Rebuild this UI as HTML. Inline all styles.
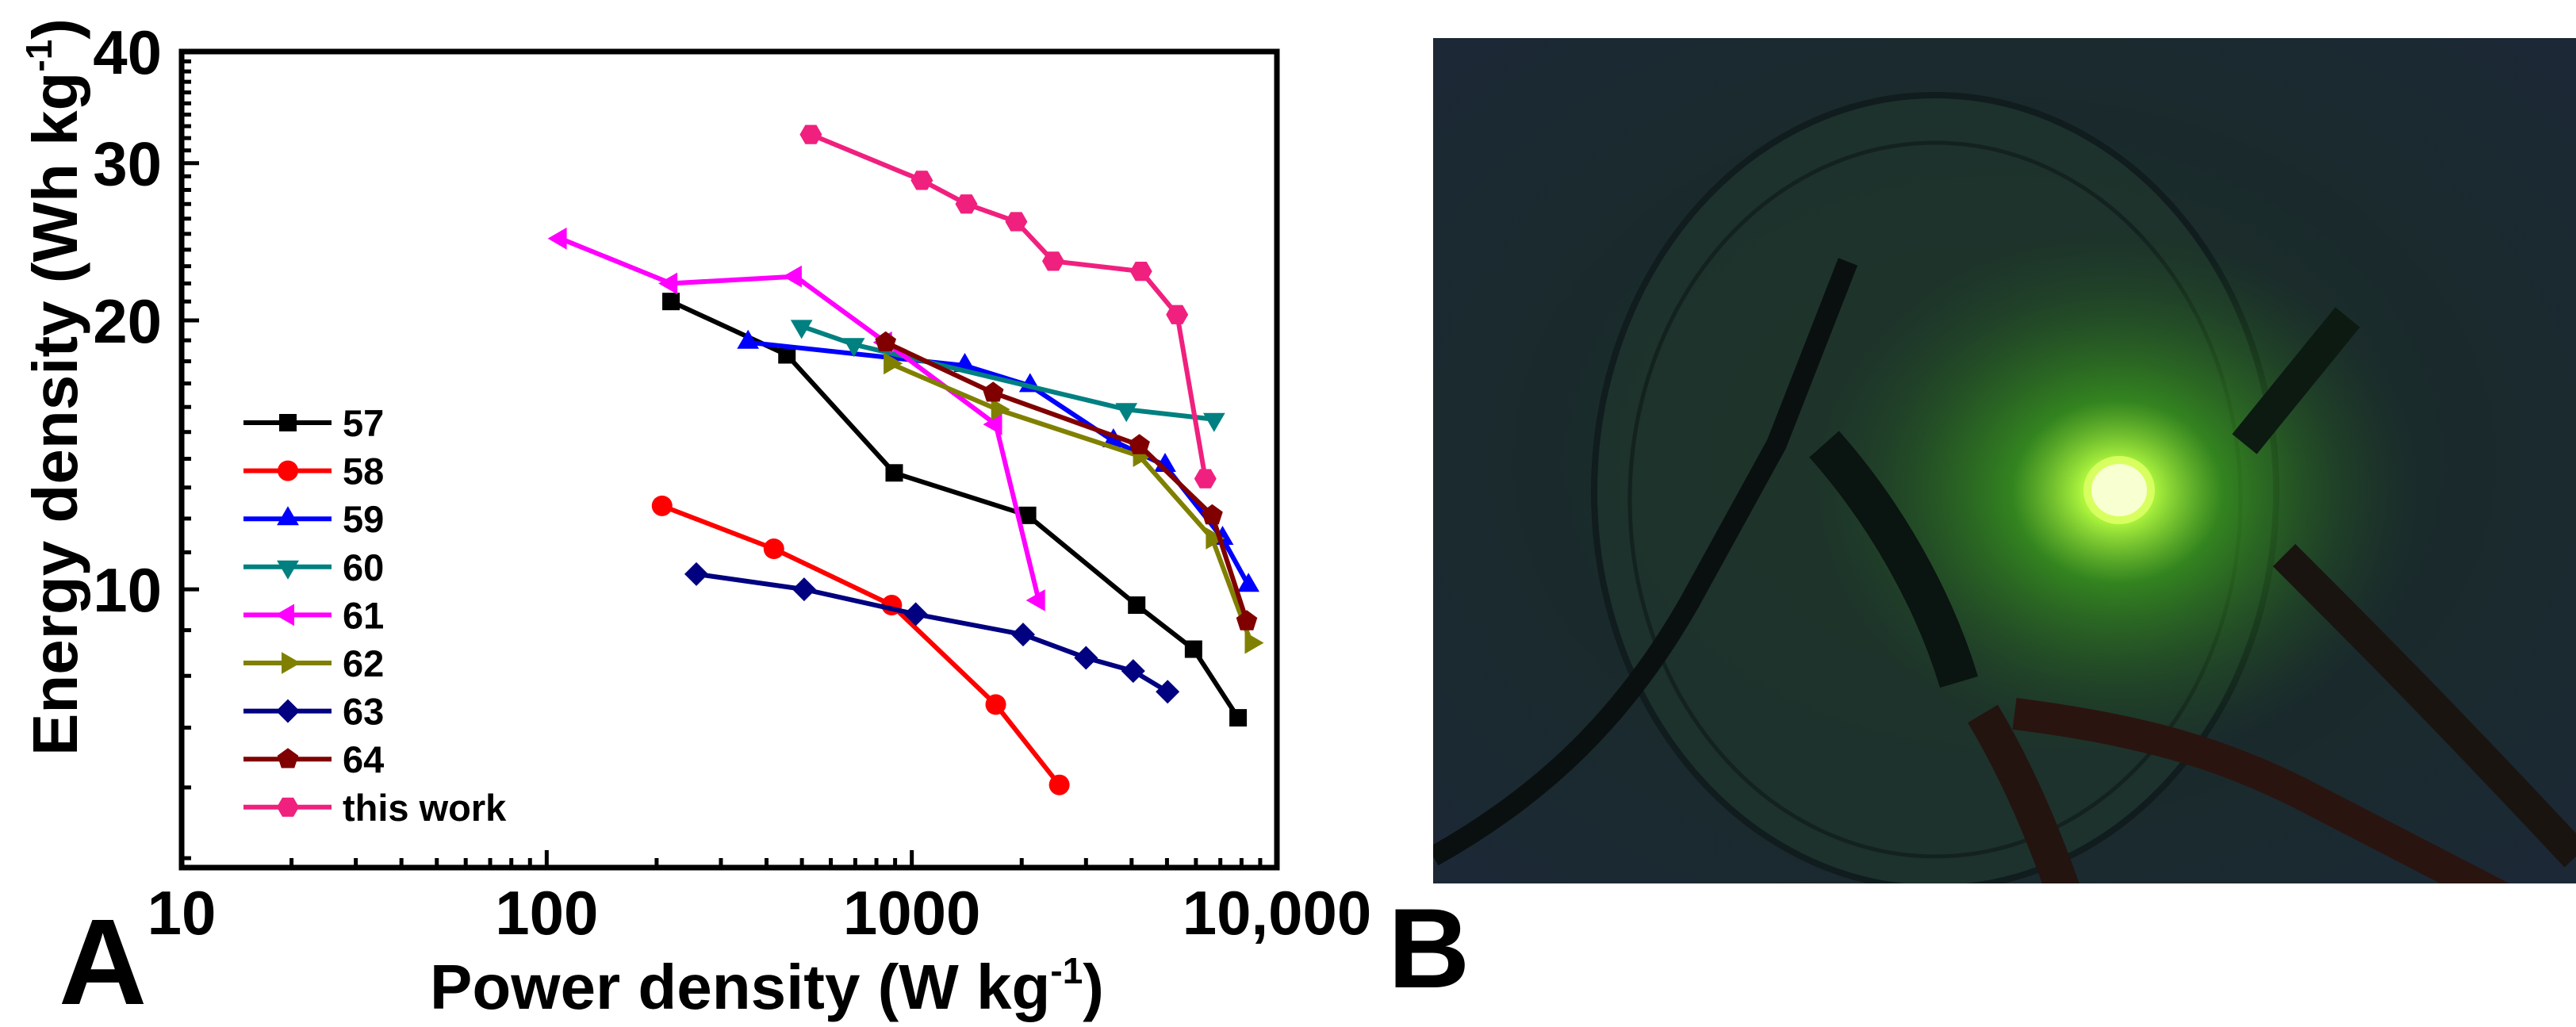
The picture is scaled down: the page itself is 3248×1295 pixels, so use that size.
<!DOCTYPE html>
<html><head><meta charset="utf-8"><style>
html,body{margin:0;padding:0;background:#fff;}
svg{display:block;}
text{font-family:"Liberation Sans",Arial,sans-serif;font-weight:bold;fill:#000;}
</style></head><body>
<svg id="fig" width="3248" height="1295" viewBox="0 0 3248 1295" xmlns="http://www.w3.org/2000/svg">
<defs>
<radialGradient id="bg" cx="0.5" cy="0.5" r="0.75">
<stop offset="0" stop-color="#1e3328"/><stop offset="0.55" stop-color="#1a2a2c"/><stop offset="1" stop-color="#1c2838"/>
</radialGradient>
<radialGradient id="glow" cx="0.5" cy="0.5" r="0.5">
<stop offset="0" stop-color="#f0ffb0"/><stop offset="0.1" stop-color="#b8ff40"/><stop offset="0.35" stop-color="#3a9e1c" stop-opacity="0.75"/><stop offset="1" stop-color="#1e4a22" stop-opacity="0"/>
</radialGradient>
<clipPath id="pclip"><rect x="1807" y="48" width="1441" height="1066"/></clipPath>
</defs>
<g id="chart"></g>
<g id="photo" clip-path="url(#pclip)">
<rect x="1807" y="48" width="1441" height="1066" fill="url(#bg)"/>
<ellipse cx="2440" cy="620" rx="430" ry="500" fill="#1f3a2c" fill-opacity="0.5" stroke="#101c1e" stroke-width="8"/>
<ellipse cx="2440" cy="630" rx="385" ry="450" fill="none" stroke="#14221f" stroke-width="5"/>
<ellipse cx="2670" cy="620" rx="380" ry="330" fill="url(#glow)"/>
<ellipse cx="2672" cy="618" rx="40" ry="38" fill="#f8ffd0" stroke="#d8ff60" stroke-width="10"/>
<path d="M1807 1080 C1950 1000 2050 900 2130 760 L2240 560 L2330 330" stroke="#0a1010" stroke-width="26" fill="none"/>
<path d="M2300 560 C2380 650 2440 760 2470 860" stroke="#0a1410" stroke-width="50" fill="none"/>
<path d="M2830 560 L2960 400" stroke="#0c1a12" stroke-width="40" fill="none"/>
<path d="M2880 700 C2980 800 3080 900 3248 1080" stroke="#1a1410" stroke-width="40" fill="none"/>
<path d="M2540 900 C2700 920 2800 950 2900 1000 L3248 1180" stroke="#2a1410" stroke-width="40" fill="none"/>
<path d="M2500 900 C2560 1000 2620 1150 2650 1300" stroke="#231410" stroke-width="44" fill="none"/>
</g>
<text x="1750" y="1245" font-size="143">B</text>
</svg>
<script>
// ---- data ----
const seriesNames = ["57","58","59","60","61","62","63","64","this work"];
const s57x = [219,455,895,2075,4130,5910,7830];
const s57y = [21.0,18.3,13.5,12.1,9.6,8.57,7.18];
const s58x = [207,419,881,1698,2535];
const s58y = [12.4,11.1,9.6,7.43,6.04];
const s59x = [356,1397,2108,3566,4940,7100,8360];
const s59y = [18.9,17.8,16.9,14.66,13.76,11.4,10.1];
const s60x = [499,694,3870,6730];
const s60y = [19.7,18.8,15.9,15.5];
const s61x = [109,219,480,848,1698,2227];
const s61y = [24.7,22.0,22.4,18.9,15.3,9.72];
const s62x = [871,1717,4200,6650,8500];
const s62y = [17.9,15.9,14.1,11.4,8.71];
const s63x = [257,507,1025,2018,3000,4040,5020];
const s63y = [10.4,10.0,9.38,8.9,8.38,8.1,7.68];
const s64x = [848,1670,4200,6650,8270];
const s64y = [18.9,16.6,14.5,12.1,9.21];
const sTWx = [529,1065,1411,1933,2440,4245,5330,6370];
const sTWy = [32.3,28.7,27.0,25.8,23.3,22.7,20.3,13.3];
const xTickLabels = ["10","100","1000","10,000"];
const xTickValues = [10,100,1000,10000];
const yTickLabels = ["10","20","30","40"];
const yTickValues = [10,20,30,40];

const NS="http://www.w3.org/2000/svg";
const L=229,R=1610,T=65,B=1094;
const XMIN=10,XMAX=10000,YMIN=4.88,YMAX=40;
function sx(v){return L+(Math.log10(v)-Math.log10(XMIN))/(Math.log10(XMAX)-Math.log10(XMIN))*(R-L);}
function sy(v){return B-(Math.log10(v)-Math.log10(YMIN))/(Math.log10(YMAX)-Math.log10(YMIN))*(B-T);}
const chart=document.getElementById('chart');
function mk(tag,attrs,parent){const e=document.createElementNS(NS,tag);for(const k in attrs)e.setAttribute(k,attrs[k]);(parent||chart).appendChild(e);return e;}

const series=[
 {x:s57x,y:s57y,c:"#000000",m:"square"},
 {x:s58x,y:s58y,c:"#ff0000",m:"circle"},
 {x:s59x,y:s59y,c:"#0000ff",m:"up"},
 {x:s60x,y:s60y,c:"#008080",m:"down"},
 {x:s61x,y:s61y,c:"#ff00ff",m:"left"},
 {x:s62x,y:s62y,c:"#808000",m:"right"},
 {x:s63x,y:s63y,c:"#000080",m:"diamond"},
 {x:s64x,y:s64y,c:"#800000",m:"pentagon"},
 {x:sTWx,y:sTWy,c:"#f0207f",m:"hexagon"}
];
function marker(type,cx,cy,col,parent){
  const r=13;let pts;
  if(type==="square"){return mk('rect',{x:cx-11,y:cy-11,width:22,height:22,fill:col},parent);}
  if(type==="circle"){return mk('circle',{cx:cx,cy:cy,r:r,fill:col},parent);}
  const poly=(n,rot,rr)=>{let p=[];for(let i=0;i<n;i++){const a=rot+i*2*Math.PI/n;p.push((cx+rr*Math.cos(a)).toFixed(1)+","+(cy+rr*Math.sin(a)).toFixed(1));}return p.join(" ");};
  if(type==="up")pts=poly(3,-Math.PI/2,16);
  else if(type==="down")pts=poly(3,Math.PI/2,16);
  else if(type==="left")pts=poly(3,Math.PI,16);
  else if(type==="right")pts=poly(3,0,16);
  else if(type==="diamond")pts=poly(4,-Math.PI/2,15);
  else if(type==="pentagon")pts=poly(5,-Math.PI/2,14);
  else pts=poly(6,0,14);
  return mk('polygon',{points:pts,fill:col},parent);
}

const box=mk('rect',{x:L,y:T,width:R-L,height:B-T,fill:"none",stroke:"#000","stroke-width":7});



const xt=mk('g',{});


for(let d=10;d<10000;d*=10){for(let k=1;k<10;k++){const v=d*k;const X=sx(v);const len=(k===1)?22:12;mk('line',{x1:X,y1:B,x2:X,y2:B-len,stroke:"#000","stroke-width":5},xt);}}
xTickValues.forEach((v,i)=>{const t=mk('text',{x:sx(v),y:1178,"font-size":78,"text-anchor":"middle"});t.textContent=xTickLabels[i];

});
const yt=mk('g',{});


for(let v=5;v<=40;v++){const Y=sy(v);const len=(v%10===0)?22:12;mk('line',{x1:L,y1:Y,x2:L+len,y2:Y,stroke:"#000","stroke-width":5},yt);}
yTickValues.forEach((v,i)=>{const t=mk('text',{x:204,y:sy(v)+28,"font-size":78,"text-anchor":"end"});t.textContent=yTickLabels[i];

});

const xtitle=mk('text',{x:967,y:1272,"font-size":80,"text-anchor":"middle"});
xtitle.innerHTML='Power density (W kg<tspan dy="-32" font-size="46">-1</tspan><tspan dy="32">)</tspan>';


const ytitle=mk('text',{x:0,y:0,"font-size":80,"text-anchor":"middle",transform:"translate(97,488) rotate(-90)"});
ytitle.innerHTML='Energy density (Wh kg<tspan dy="-32" font-size="46">-1</tspan><tspan dy="32">)</tspan>';


const pa=mk('text',{x:74,y:1266,"font-size":154});pa.textContent='A';



series.forEach((s,i)=>{
  const g=mk('g',{});
  
  
  const pts=s.x.map((v,j)=>sx(v).toFixed(1)+","+sy(s.y[j]).toFixed(1)).join(" ");
  const pl=mk('polyline',{points:pts,fill:"none",stroke:s.c,"stroke-width":6,"stroke-linejoin":"round"},g);
  
  
  s.x.forEach((v,j)=>{const m=marker(s.m,sx(v),sy(s.y[j]),s.c,g);
    
    });
});

const lg=mk('g',{});


series.forEach((s,i)=>{
  const y=533+i*60.6;
  const e=mk('g',{},lg);
  
  
  mk('line',{x1:307,y1:y,x2:418,y2:y,stroke:s.c,"stroke-width":6},e);
  marker(s.m,363,y,s.c,e);
  const t=mk('text',{x:432,y:y+17,"font-size":47},e);t.textContent=seriesNames[i];
});
</script>
</body></html>
